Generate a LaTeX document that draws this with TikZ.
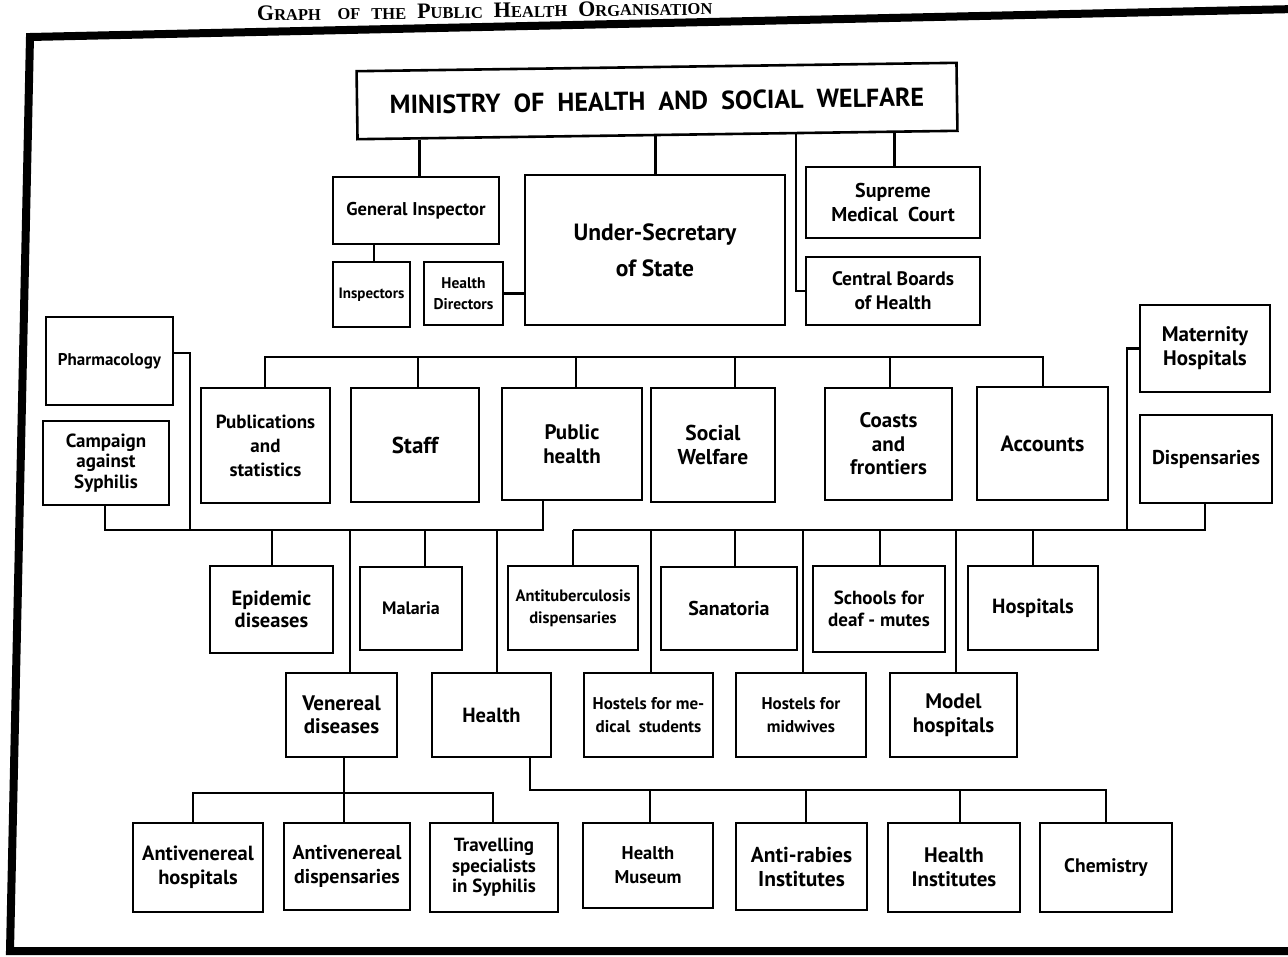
\documentclass[tikz,border=0pt]{standalone}
\usepackage{fontspec}
\usetikzlibrary{calc}
\setmainfont{PT Sans}
\newfontfamily\titlefont{Liberation Serif}
\newcommand\smcap[1]{{\fontsize{16.5}{16.5}\selectfont #1}}
\tikzset{
  box/.style={draw, line width=2.6pt, inner sep=1pt, align=center, font=\bfseries\fontsize{19}{23}\selectfont},
  wh/.style 2 args={minimum width=#1, minimum height=#2},
  link/.style={line width=2.6pt},
  fs/.style 2 args={font=\bfseries\fontsize{#1}{#2}\selectfont},
}
\begin{document}
\begin{tikzpicture}[x=1pt, y=-1pt]
\useasboundingbox (0,0) rectangle (1288,956);
\clip (0,0) rectangle (1288,956);
\fill[white] (0,0) rectangle (1288,956);
% title
\node[font=\titlefont\bfseries\fontsize{22}{22}\selectfont, rotate=0.8, anchor=base west, inner sep=0] (title) at (257,21)
 {G\smcap{RAPH}\ \ \ \smcap{OF}\ \ \smcap{THE}\ \ P\smcap{UBLIC}\ \ H\smcap{EALTH}\ \ O\smcap{RGANISATION}};
% frame
\draw[line width=8pt, line join=miter] (1296,9) -- (30,37) -- (10,951) -- (1296,951);

% level 0-1
\node[box, wh={600}{68}, fs={26}{27}, rotate=0.8] (min) at (657,101) {MINISTRY\ \ OF\ \ HEALTH\ \ AND\ \ SOCIAL\ \ WELFARE};
\node[box, wh={166}{67}, fs={18.5}{23}] (gi) at (416,210.5) {General Inspector};
\node[box, wh={77}{65}, fs={15}{18}] (insp) at (371.5,294.5) {Inspectors};
\node[box, wh={79}{63}, fs={15.5}{21}] (hd) at (463.5,293.5) {Health\\Directors};
\node[box, wh={260}{150}, fs={23.5}{36}] (us) at (655,250) {Under-Secretary\\of State};
\node[box, wh={174}{71}, fs={20}{24}] (smc) at (893,202.5) {Supreme\\Medical\ \ Court};
\node[box, wh={174}{68}, fs={19.5}{24}] (cbh) at (893,291) {Central Boards\\of Health};

% departments
\node[box, wh={127}{88}, fs={17}{22}] (pharm) at (109.5,361) {Pharmacology};
\node[box, wh={126}{84}, fs={19}{20.5}] (camp) at (106,463) {Campaign\\against\\Syphilis};
\node[box, wh={129}{115}, fs={19}{24}] (pub) at (265.5,445.5) {Publications\\and\\statistics};
\node[box, wh={128}{114}, fs={23}{24}] (staff) at (415,445) {Staff};
\node[box, wh={140}{112}, fs={21}{24}] (ph) at (572,444) {Public\\health};
\node[box, wh={124}{114}, fs={21.5}{24}] (sw) at (713,445) {Social\\Welfare};
\node[box, wh={127}{112}, fs={21}{23.5}] (cf) at (888.5,444) {Coasts\\and\\frontiers};
\node[box, wh={131}{113}, fs={22}{24}] (acc) at (1042.5,443.5) {Accounts};
\node[box, wh={130}{87}, fs={21}{24}] (mat) at (1205,348.5) {Maternity\\Hospitals};
\node[box, wh={132}{88}, fs={20}{22}] (disp) at (1206,459) {Dispensaries};

% third row
\node[box, wh={123}{87}, fs={20.5}{22}] (epi) at (271.5,609.5) {Epidemic\\diseases};
\node[box, wh={102}{83}, fs={18}{22}] (mal) at (411,608.5) {Malaria};
\node[box, wh={130}{84}, fs={16.5}{22}] (atb) at (573,608) {Antituberculosis\\dispensaries};
\node[box, wh={136}{83}, fs={20}{22}] (san) at (729,608.5) {Sanatoria};
\node[box, wh={132}{86}, fs={19}{22}] (sch) at (879,609) {Schools for\\deaf - mutes};
\node[box, wh={130}{84}, fs={20.5}{22}] (hosp) at (1033,608) {Hospitals};

% fourth row
\node[box, wh={111}{84}, fs={21}{23}] (ven) at (341.5,715) {Venereal\\diseases};
\node[box, wh={119}{84}, fs={20.5}{23}] (hea) at (491.5,715) {Health};
\node[box, wh={129}{84}, fs={17}{23}] (hms) at (648.5,715) {Hostels for me-\\dical\ \ students};
\node[box, wh={130}{84}, fs={17}{23}] (hmw) at (801,715) {Hostels for\\midwives};
\node[box, wh={127}{84}, fs={21}{24}] (mod) at (953.5,715) {Model\\hospitals};

% fifth row
\node[box, wh={130}{89}, fs={20.5}{24}] (avh) at (198,867.5) {Antivenereal\\hospitals};
\node[box, wh={126}{87}, fs={20}{24}] (avd) at (347,866.5) {Antivenereal\\dispensaries};
\node[box, wh={128}{89}, fs={19}{20.5}] (trav) at (494,867.5) {Travelling\\specialists\\in Syphilis};
\node[box, wh={130}{85}, fs={18.5}{24}] (hmus) at (648,865.5) {Health\\Museum};
\node[box, wh={131}{87}, fs={21.5}{24}] (arab) at (801.5,866.5) {Anti-rabies\\Institutes};
\node[box, wh={132}{89}, fs={21}{24}] (hins) at (954,867.5) {Health\\Institutes};
\node[box, wh={132}{89}, fs={19.5}{24}] (chem) at (1106,867.5) {Chemistry};

% connectors: top
\coordinate (m1) at ($(min.south west)!0.105!(min.south east)$);
\coordinate (m2) at ($(min.south west)!0.497!(min.south east)$);
\coordinate (m3) at ($(min.south west)!0.73!(min.south east)$);
\coordinate (m4) at ($(min.south west)!0.893!(min.south east)$);
\draw[link] (m1) -- (m1 |- gi.north);
\draw[link] (m2) -- (m2 |- us.north);
\draw[link] (m4) -- (m4 |- smc.north);
\draw[link] (m3) |- (cbh.west);
\draw[link] (gi.south -| 374,0) -- (insp.north -| 374,0);
\draw[link] (hd.east) -- (hd.east -| us.west);

% department bus
\coordinate (d1) at (265,357);
\coordinate (d2) at (1043,357);
\draw[link] (pub.north -| d1) -- (d1) -- (d2) -- (acc.north -| d2);
\foreach \n/\x in {staff/418, ph/576, sw/735, cf/890}
  \draw[link] (\n.north -| \x,0) -- (d1 -| \x,0);

% left lower bus
\coordinate (l1) at (105,530);
\coordinate (l2) at (543,530);
\coordinate (lp) at (190,530);
\draw[link] (camp.south -| l1) -- (l1) -- (l2) -- (ph.south -| l2);
\draw[link] ([yshift=8pt]pharm.east) -| (lp);
\foreach \n/\x in {epi/272, ven/350, mal/425, hea/497}
  \draw[link] (l1 -| \x,0) -- (\n.north -| \x,0);

% right lower bus
\coordinate (r1) at (573,530);
\coordinate (r2) at (1205,530);
\coordinate (rm) at (1127,530);
\draw[link] (r1) -- (r2) -- (disp.south -| r2);
\draw[link] (mat.west) -| (rm);
\foreach \n/\x in {atb/573, hms/651, san/735, hmw/803, sch/880, mod/956, hosp/1033}
  \draw[link] (r1 -| \x,0) -- (\n.north -| \x,0);

% venereal bus
\coordinate (v1) at (193,793);
\coordinate (v2) at (493,793);
\draw[link] (ven.south -| 344,0) -- (v1 -| 344,0);
\draw[link] (avh.north -| v1) -- (v1) -- (v2) -- (trav.north -| v2);
\draw[link] (v1 -| 344,0) -- (avd.north -| 344,0);

% health bus
\coordinate (h1) at (530,790);
\coordinate (h2) at (1106,790);
\draw[link] (hea.south -| h1) -- (h1) -- (h2) -- (chem.north -| h2);
\foreach \n/\x in {hmus/650, arab/806, hins/960}
  \draw[link] (h1 -| \x,0) -- (\n.north -| \x,0);
\end{tikzpicture}
\end{document}
